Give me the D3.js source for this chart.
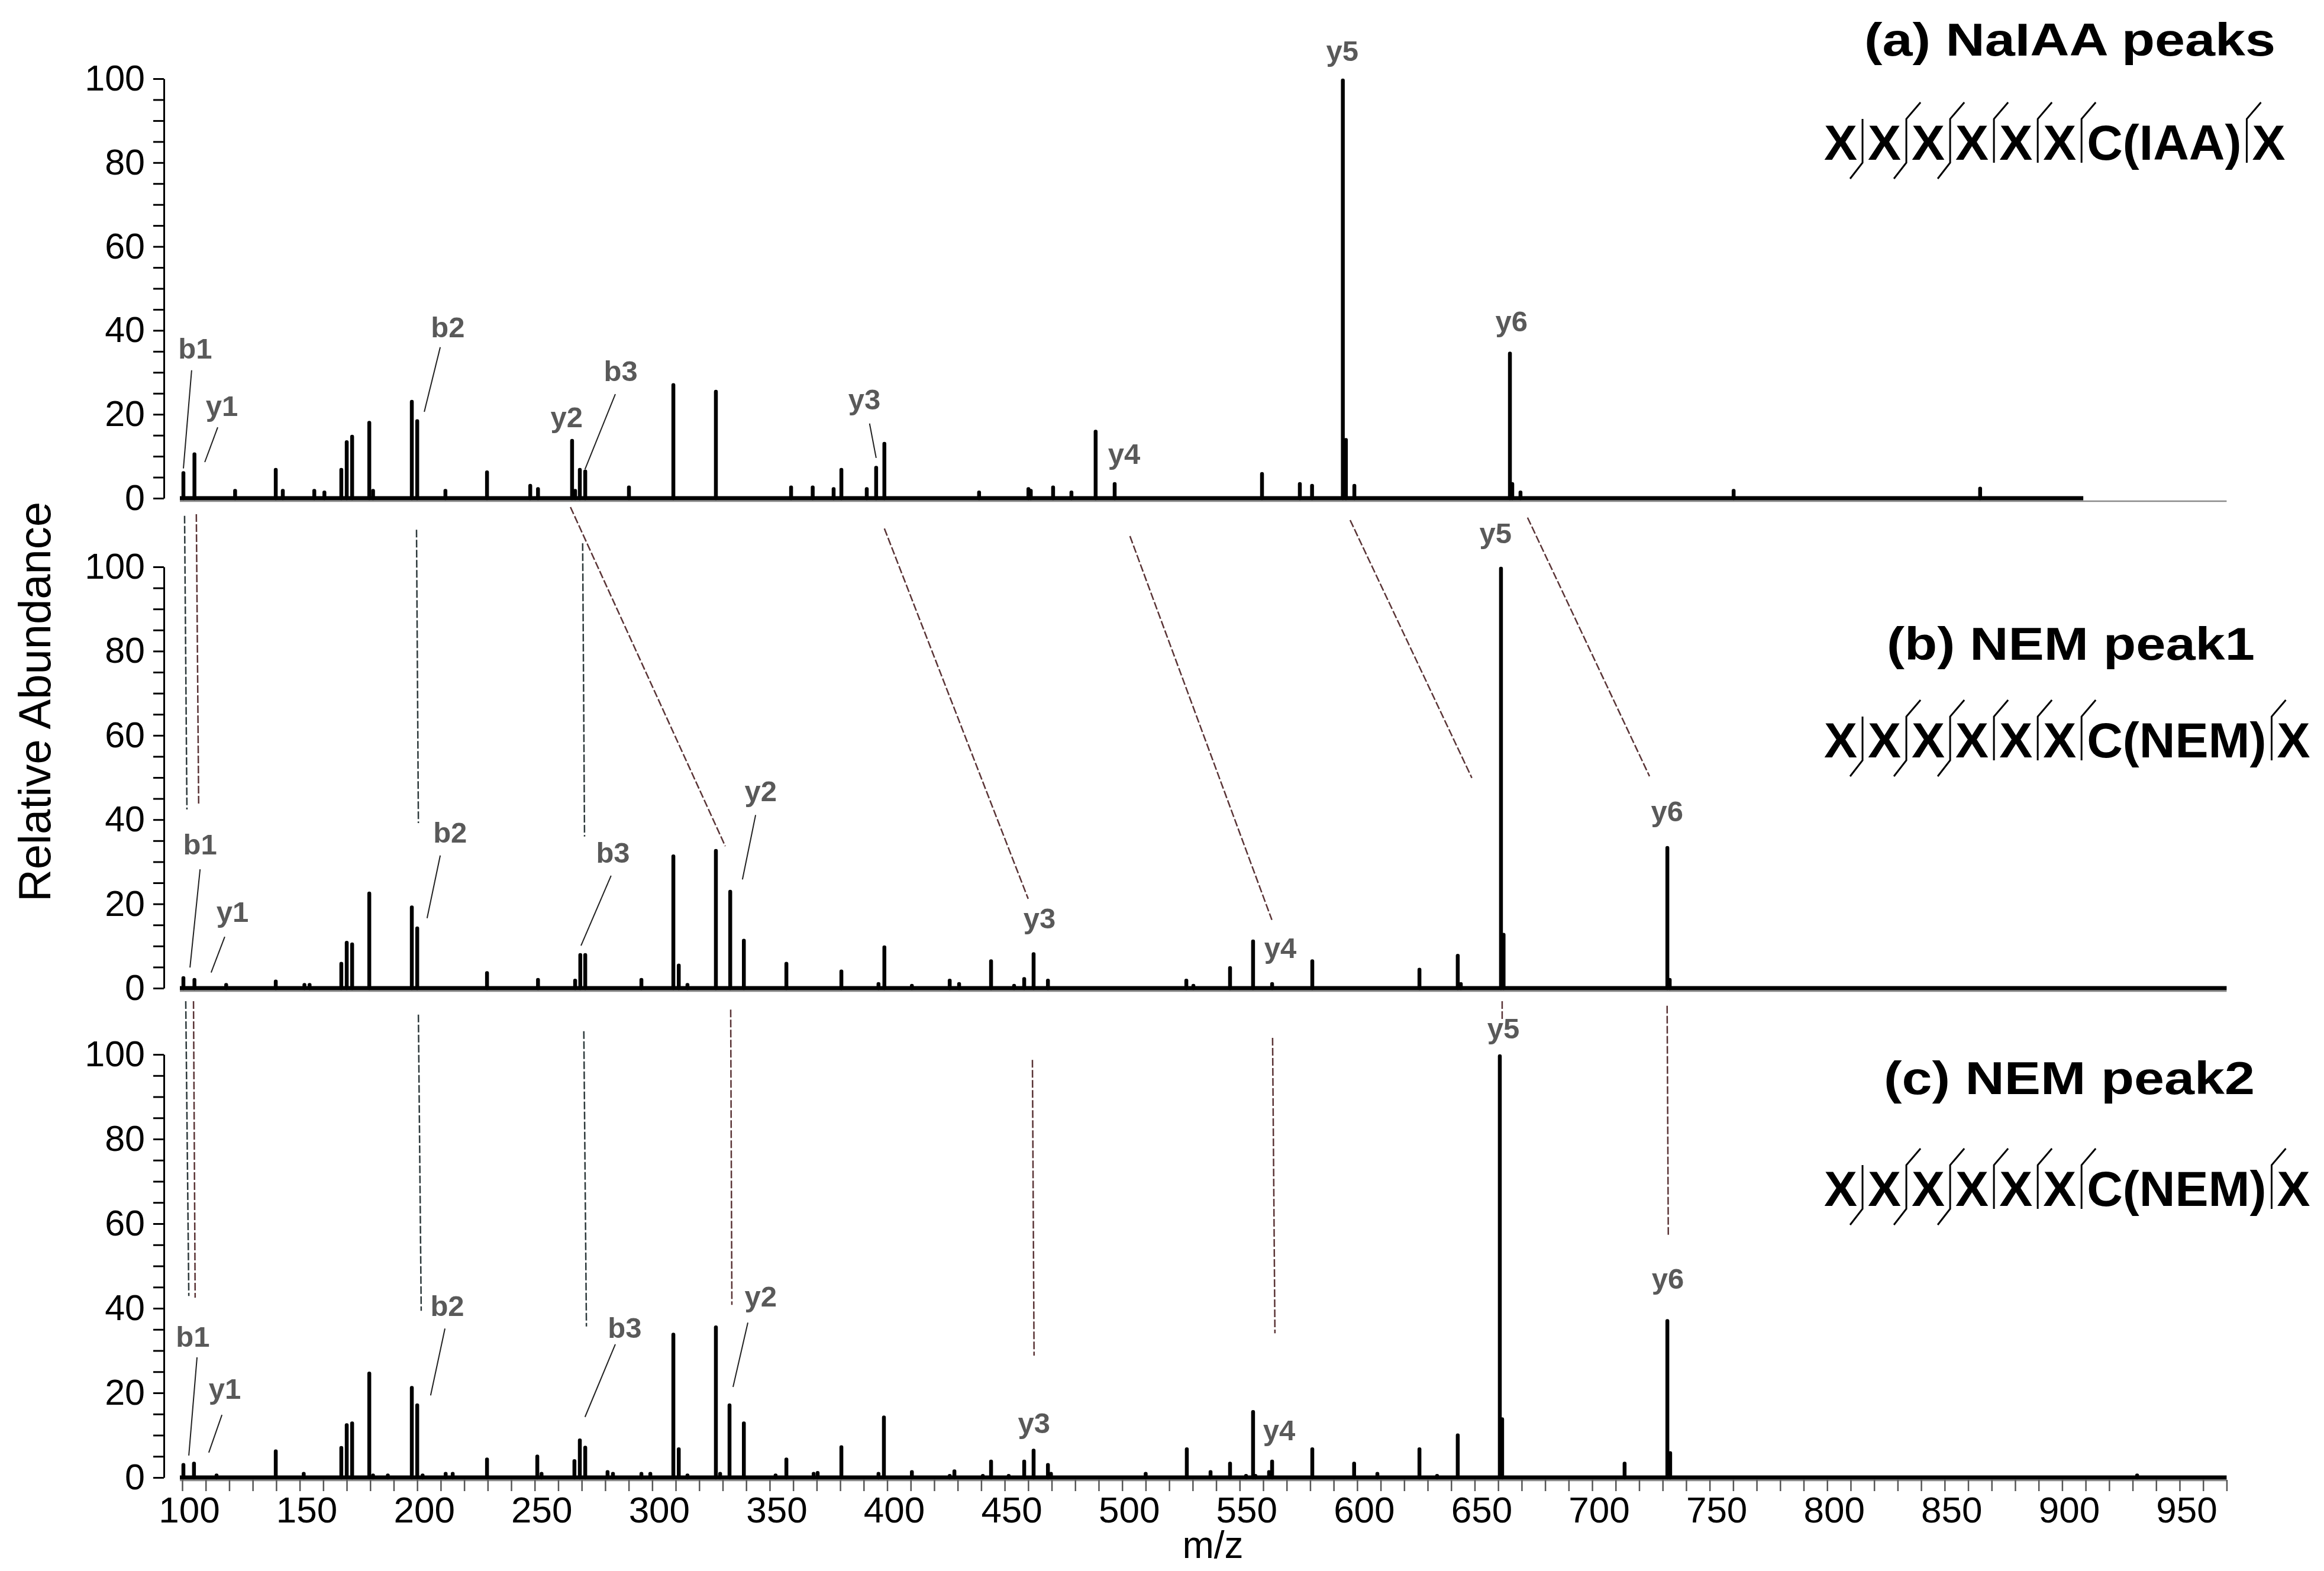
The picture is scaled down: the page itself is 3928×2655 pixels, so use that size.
<!DOCTYPE html>
<html>
<head>
<meta charset="utf-8">
<script src="https://cdn.jsdelivr.net/npm/d3@7"></script>
<style>
  body { margin: 0; background: #fff; }
  svg text { font-family: "Liberation Sans", Arial, Helvetica, sans-serif; }
</style>
</head>
<body>
<div class="chart"></div>
<script>
// ---- data: [m/z, relative abundance] ----
const peaksNaIAA = [[100.5,6.4],[105.2,10.9],[122.5,2.2],[139.8,7.2],[142.8,2.2],[156.2,2.2],[160.5,1.8],[167.7,7.2],[170.0,13.8],[172.3,15.1],[179.6,18.4],[181.2,2.2],[197.7,23.4],[200.0,18.8],[212.0,2.2],[229.7,6.6],[248.1,3.4],[251.4,2.6],[265.9,14.1],[267.2,2.2],[269.2,7.2],[271.5,6.8],[290.1,3.0],[309.0,27.4],[327.1,25.8],[359.1,3.0],[368.3,3.0],[377.2,2.6],[380.5,7.2],[391.3,2.6],[395.3,7.7],[398.8,13.4],[439.1,1.8],[460.1,2.6],[461.1,2.2],[470.6,3.0],[478.4,1.8],[488.7,16.3],[496.8,3.8],[559.5,6.2],[575.6,3.8],[580.8,3.4],[593.9,100],[595.2,14.3],[598.8,3.4],[665.0,34.9],[666.0,3.8],[669.5,1.8],[760.2,2.2],[865.1,2.7]];

const peaksNEM1 = [[100.5,2.8],[105.2,2.4],[118.7,1.2],[139.8,2.0],[152.0,1.2],[154.2,1.2],[167.7,6.2],[170.0,11.2],[172.3,10.8],[179.6,22.9],[197.7,19.6],[200.0,14.6],[229.7,4.0],[251.4,2.4],[267.2,2.2],[269.4,8.3],[271.5,8.3],[295.4,2.4],[309.0,31.7],[311.3,5.8],[315.0,1.2],[327.1,33.0],[333.2,23.3],[339.0,11.7],[357.1,6.2],[380.5,4.4],[396.3,1.4],[398.8,10.1],[410.5,1.0],[426.6,2.2],[430.6,1.4],[444.2,6.8],[454.0,1.0],[458.3,2.6],[462.3,8.5],[468.4,2.2],[527.3,2.2],[530.3,1.0],[545.9,5.2],[555.7,11.5],[563.8,1.4],[580.9,6.8],[626.5,4.8],[642.8,8.1],[644.1,1.4],[661.2,100],[662.3,13.1],[732.0,33.7],[733.0,2.4]];

const peaksNEM2 = [[100.5,3.4],[105.0,3.7],[114.6,0.9],[139.8,6.6],[151.7,1.3],[167.7,7.4],[170.0,12.8],[172.3,13.2],[179.6,25.0],[181.2,0.9],[187.5,0.9],[197.7,21.6],[200.0,17.5],[202.3,0.9],[212.1,1.3],[215.1,1.3],[229.7,4.7],[251.1,5.4],[252.9,1.3],[266.9,4.3],[269.2,9.2],[271.5,7.5],[281.0,1.7],[283.3,1.3],[295.4,1.3],[299.2,1.3],[309.0,34.2],[311.3,7.1],[315.0,0.9],[327.1,35.9],[328.9,1.3],[332.9,17.5],[339.0,13.2],[352.5,0.9],[357.1,4.7],[368.7,1.3],[370.4,1.5],[380.5,7.6],[396.3,1.3],[398.6,14.6],[410.5,1.7],[426.6,0.8],[428.6,1.9],[440.7,0.8],[444.2,4.2],[451.7,0.8],[458.3,4.2],[462.3,6.8],[468.4,3.4],[469.7,1.3],[510.0,1.3],[527.5,7.1],[537.6,1.7],[545.9,3.7],[552.7,0.8],[555.7,15.9],[556.7,0.8],[562.5,1.7],[563.8,4.2],[580.9,7.1],[598.7,3.7],[608.6,1.3],[626.5,7.1],[634.0,0.8],[642.8,10.4],[660.7,100],[661.7,14.2],[713.8,3.7],[732.0,37.4],[733.2,6.2],[931.9,0.9]];

// ion labels: [label, m/z, abundance] of the text anchor
const ionsNaIAA = [["b1",105.5,33.3],["y1",116.9,19.6],["b2",213.0,38.4],["y2",263.6,16.9],["b3",286.6,27.9],["y3",390.3,21.2],["y4",500.8,8.2],["y5",593.7,104.2],["y6",665.7,39.8]];
const ionsNEM1 = [["b1",107.6,31.7],["y1",121.4,15.7],["b2",214.0,34.6],["b3",283.3,29.8],["y2",346.2,44.4],["y3",464.8,14.2],["y4",567.3,7.2],["y5",658.9,105.6],["y6",731.9,39.6]];
const ionsNEM2 = [["b1",104.5,30.9],["y1",118.1,18.6],["b2",212.8,38.2],["b3",288.3,33.0],["y2",346.2,40.4],["y3",462.5,10.5],["y4",566.8,8.8],["y5",662.2,103.8],["y6",732.2,44.6]];

// leader lines from label to peak: [m/z1, ab1, m/z2, ab2]
const leadersNaIAA = [[104.0,30.5,100.5,7.1],[115.1,16.9,109.6,8.6],[209.8,36.0,203.0,20.6],[284.3,24.8,271.4,6.9],[392.5,17.8,395.3,9.6]];
const leadersNEM1 = [[107.6,28.2,103.3,4.9],[118.1,12.2,112.3,3.7],[209.8,31.5,204.2,16.6],[282.5,26.7,269.7,10.1],[344.0,41.1,338.4,25.8]];
const leadersNEM2 = [[106.3,28.4,102.8,5.2],[116.9,14.8,111.3,5.9],[211.8,35.2,205.7,19.4],[284.3,31.5,271.4,14.3],[340.7,36.6,334.4,21.4]];

// dashed connectors between panels, in the lower panel's units: [series, m/z1, ab1, m/z2, ab2]
const linksAtoB = [["b",101.0,112.1,102.0,42.4],["y",106.0,112.5,107.0,43.3],["b",199.7,108.8,200.5,39.2],["b",270.4,105.6,271.2,36.0],["y",265.2,114.2,331.1,33.7],["y",398.8,109.1,460.0,21.2],["y",503.3,107.3,563.7,16.2],["y",597.0,111.1,648.8,49.9],["y",672.5,111.7,724.4,50.3]];
const linksBtoC = [["b",101.5,112.6,102.8,42.9],["y",104.8,112.6,105.5,42.5],["b",200.5,109.4,201.7,39.4],["b",270.9,105.5,272.0,35.7],["y",333.4,110.6,333.9,40.8],["y",461.8,98.7,462.5,28.8],["y",564.0,103.9,565.0,34.1],["y",661.7,112.6,661.7,108.1],["y",731.9,111.5,732.4,56.9]];

const panelTitles = ["(a) NaIAA peaks", "(b) NEM peak1", "(c) NEM peak2"];
const residuesIAA = ["X","X","X","X","X","X","C(IAA)","X"];
const residuesNEM = ["X","X","X","X","X","X","C(NEM)","X"];
const bCuts = [1, 2, 3];
const yCuts = [2, 3, 4, 5, 6, 7];

const yTickLabels = [0, 20, 40, 60, 80, 100];
const xTickLabels = [100,150,200,250,300,350,400,450,500,550,600,650,700,750,800,850,900,950];

// ---- drawing ----
const W = 3928, H = 2655;
const svg = d3.select(".chart").append("svg")
    .attr("width", W)
    .attr("height", H);

const x = d3.scaleLinear().domain([100, 950]).range([308, 3684]);
const mzStart = 99, mzEnd = 970;
const labelGray = "#595959";
const linkColor = {b: "#2e3a3c", y: "#5a3436"};

const panels = [
    {title: panelTitles[0], residues: residuesIAA, peaks: peaksNaIAA, ions: ionsNaIAA, leaders: leadersNaIAA,
     y0: 842, y100: 133, titleY: 94, titleRight: 3846, titleW: 695, seqY: 270, baseEnd: 909},
    {title: panelTitles[1], residues: residuesNEM, peaks: peaksNEM1, ions: ionsNEM1, leaders: leadersNEM1,
     y0: 1670, y100: 958, titleY: 1115, titleRight: 3811, titleW: 622, seqY: 1280, baseEnd: mzEnd},
    {title: panelTitles[2], residues: residuesNEM, peaks: peaksNEM2, ions: ionsNEM2, leaders: leadersNEM2,
     y0: 2497, y100: 1782, titleY: 1849, titleRight: 3811, titleW: 627, seqY: 2038, baseEnd: mzEnd}
];
panels.forEach(p => {
    p.y = d3.scaleLinear().domain([0, 100]).range([p.y0, p.y100]);
});

function drawSequence(g, residues, x0, base) {
    let cx = x0;
    const gap = 18;
    residues.forEach((r, i) => {
        const t = g.append("text")
            .attr("x", cx)
            .attr("y", base)
            .attr("font-size", 84)
            .attr("font-weight", "bold")
            .attr("fill", "#000")
            .text(r);
        cx += t.node().getComputedTextLength();
        if (i < residues.length - 1) {
            const bx = cx + gap / 2;
            const top = base - 69, bot = base + 5;
            let pts = [];
            if (yCuts.includes(i + 1)) pts.push([bx + 24, top - 28]);
            pts.push([bx, top], [bx, bot]);
            if (bCuts.includes(i + 1)) pts.push([bx - 21, bot + 27]);
            g.append("path")
                .attr("d", d3.line()(pts))
                .attr("fill", "none")
                .attr("stroke", "#000")
                .attr("stroke-width", 3);
            cx += gap;
        }
    });
}

panels.forEach((p, pi) => {
    const g = svg.append("g").attr("class", "panel");

    // y axis
    const yAxis = d3.axisLeft(p.y)
        .tickValues(d3.range(0, 101, 5))
        .tickSize(18)
        .tickSizeOuter(0)
        .tickPadding(14)
        .tickFormat(d => yTickLabels.includes(d) ? d : "");
    const ya = g.append("g")
        .attr("transform", "translate(277,0)")
        .call(yAxis);
    ya.select(".domain").attr("stroke-width", 3);
    ya.selectAll(".tick line").attr("stroke-width", 3);
    ya.selectAll(".tick text").attr("font-size", 61).attr("font-family", "Liberation Sans, Arial, sans-serif");

    // thin axis line under the spectrum
    g.append("line")
        .attr("x1", x(mzStart)).attr("x2", x(mzEnd))
        .attr("y1", p.y(0) + 5).attr("y2", p.y(0) + 5)
        .attr("stroke", "#8a8a8a")
        .attr("stroke-width", 2.5);

    // spectrum baseline
    g.append("line")
        .attr("x1", x(mzStart)).attr("x2", x(p.baseEnd))
        .attr("y1", p.y(0)).attr("y2", p.y(0))
        .attr("stroke", "#000")
        .attr("stroke-width", 7);

    // peaks
    g.selectAll(".peak")
        .data(p.peaks)
        .enter()
        .append("line")
        .attr("class", "peak")
        .attr("x1", d => x(d[0])).attr("x2", d => x(d[0]))
        .attr("y1", p.y(0)).attr("y2", d => p.y(d[1]) + 3)
        .attr("stroke", "#000")
        .attr("stroke-width", 6.5)
        .attr("stroke-linecap", "round");

    // leader lines
    g.selectAll(".leader")
        .data(p.leaders)
        .enter()
        .append("line")
        .attr("class", "leader")
        .attr("x1", d => x(d[0])).attr("y1", d => p.y(d[1]))
        .attr("x2", d => x(d[2])).attr("y2", d => p.y(d[3]))
        .attr("stroke", "#222")
        .attr("stroke-width", 2);

    // ion labels
    g.selectAll(".ion")
        .data(p.ions)
        .enter()
        .append("text")
        .attr("class", "ion")
        .attr("x", d => x(d[1]))
        .attr("y", d => p.y(d[2]))
        .attr("text-anchor", "middle")
        .attr("font-size", 49)
        .attr("font-weight", "bold")
        .attr("fill", labelGray)
        .text(d => d[0]);

    // panel title
    g.append("text")
        .attr("x", p.titleRight - p.titleW)
        .attr("y", p.titleY)
        .attr("font-size", 78)
        .attr("font-weight", "bold")
        .attr("textLength", p.titleW)
        .attr("lengthAdjust", "spacingAndGlyphs")
        .text(p.title);

    drawSequence(g, p.residues, 3083, p.seqY);
});

// dashed connectors between panels
function drawLinks(links, yScale) {
    svg.append("g").selectAll("line")
        .data(links)
        .enter()
        .append("line")
        .attr("x1", d => x(d[1])).attr("y1", d => yScale(d[2]))
        .attr("x2", d => x(d[3])).attr("y2", d => yScale(d[4]))
        .attr("stroke", d => linkColor[d[0]])
        .attr("stroke-width", 2.5)
        .attr("stroke-dasharray", "13,4");
}
drawLinks(linksAtoB, panels[1].y);
drawLinks(linksBtoC, panels[2].y);

// x axis on the bottom panel
const pc = panels[2];
const xAxis = d3.axisBottom(x)
    .tickValues(d3.range(100, 971, 10))
    .tickSize(19)
    .tickSizeOuter(0)
    .tickFormat("");
const xa = svg.append("g")
    .attr("transform", `translate(0,${pc.y(0) + 4})`)
    .call(xAxis);
xa.select(".domain").remove();
xa.selectAll(".tick line").attr("stroke", "#555").attr("stroke-width", 2.5);

svg.append("g").selectAll("text")
    .data(xTickLabels)
    .enter()
    .append("text")
    .attr("x", d => x(d) + 12)
    .attr("y", 2573)
    .attr("text-anchor", "middle")
    .attr("font-size", 62)
    .text(d => d);

svg.append("text")
    .attr("x", 2050)
    .attr("y", 2633)
    .attr("text-anchor", "middle")
    .attr("font-size", 64)
    .text("m/z");

svg.append("text")
    .attr("transform", "translate(85,1186) rotate(-90)")
    .attr("text-anchor", "middle")
    .attr("font-size", 76)
    .text("Relative Abundance");
</script>
</body>
</html>
